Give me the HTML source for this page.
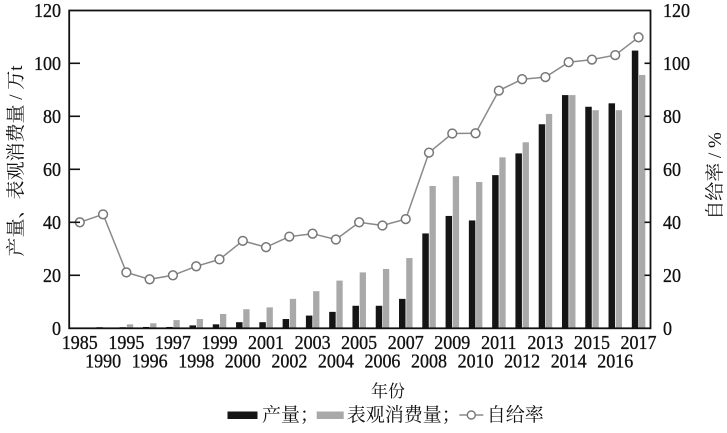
<!DOCTYPE html>
<html><head><meta charset="utf-8"><style>
html,body{margin:0;padding:0;background:#fff;}
svg{display:block;}
.n{font-family:"Liberation Serif",serif;font-size:18px;fill:#111;stroke:#111;stroke-width:0.3;}
.c{font-family:"Liberation Serif","Noto Serif CJK SC",serif;fill:#111;}
</style></head><body>
<svg width="727" height="433" viewBox="0 0 727 433" xmlns="http://www.w3.org/2000/svg">
<rect width="727" height="433" fill="#fff"/>
<g fill="#151515">
<rect x="73.1" y="327.5" width="6.5" height="0.8"/>
<rect x="96.38" y="327.24" width="6.5" height="1.06"/>
<rect x="119.66" y="327.24" width="6.5" height="1.06"/>
<rect x="142.94" y="326.97" width="6.5" height="1.33"/>
<rect x="166.22" y="326.97" width="6.5" height="1.33"/>
<rect x="189.5" y="325.38" width="6.5" height="2.92"/>
<rect x="212.78" y="324.32" width="6.5" height="3.98"/>
<rect x="236.06" y="322.2" width="6.5" height="6.1"/>
<rect x="259.34" y="322.2" width="6.5" height="6.1"/>
<rect x="282.62" y="319.02" width="6.5" height="9.28"/>
<rect x="305.9" y="315.58" width="6.5" height="12.72"/>
<rect x="329.18" y="311.87" width="6.5" height="16.43"/>
<rect x="352.46" y="305.77" width="6.5" height="22.53"/>
<rect x="375.74" y="305.77" width="6.5" height="22.53"/>
<rect x="399.02" y="298.88" width="6.5" height="29.42"/>
<rect x="422.3" y="233.43" width="6.5" height="94.87"/>
<rect x="445.58" y="215.94" width="6.5" height="112.36"/>
<rect x="468.86" y="220.44" width="6.5" height="107.86"/>
<rect x="492.14" y="175.13" width="6.5" height="153.17"/>
<rect x="515.42" y="153.4" width="6.5" height="174.9"/>
<rect x="538.7" y="124.25" width="6.5" height="204.05"/>
<rect x="561.98" y="95.1" width="6.5" height="233.2"/>
<rect x="585.26" y="106.76" width="6.5" height="221.54"/>
<rect x="608.54" y="103.31" width="6.5" height="224.99"/>
<rect x="631.82" y="50.58" width="6.5" height="277.72"/>
</g>
<g fill="#a9a9a9">
<rect x="80.3" y="327.77" width="6.3" height="0.53"/>
<rect x="103.58" y="327.5" width="6.3" height="0.8"/>
<rect x="126.86" y="324.32" width="6.3" height="3.98"/>
<rect x="150.14" y="323.26" width="6.3" height="5.04"/>
<rect x="173.42" y="320.08" width="6.3" height="8.22"/>
<rect x="196.7" y="319.02" width="6.3" height="9.28"/>
<rect x="219.98" y="313.99" width="6.3" height="14.31"/>
<rect x="243.26" y="309.22" width="6.3" height="19.08"/>
<rect x="266.54" y="307.36" width="6.3" height="20.94"/>
<rect x="289.82" y="298.88" width="6.3" height="29.42"/>
<rect x="313.1" y="291.2" width="6.3" height="37.1"/>
<rect x="336.38" y="280.6" width="6.3" height="47.7"/>
<rect x="359.66" y="272.38" width="6.3" height="55.92"/>
<rect x="382.94" y="268.94" width="6.3" height="59.36"/>
<rect x="406.22" y="258.07" width="6.3" height="70.23"/>
<rect x="429.5" y="185.99" width="6.3" height="142.31"/>
<rect x="452.78" y="176.19" width="6.3" height="152.11"/>
<rect x="476.06" y="182.02" width="6.3" height="146.28"/>
<rect x="499.34" y="157.37" width="6.3" height="170.93"/>
<rect x="522.62" y="142.27" width="6.3" height="186.03"/>
<rect x="545.9" y="113.91" width="6.3" height="214.39"/>
<rect x="569.18" y="95.1" width="6.3" height="233.2"/>
<rect x="592.46" y="110.2" width="6.3" height="218.1"/>
<rect x="615.74" y="110.2" width="6.3" height="218.1"/>
<rect x="639.02" y="74.96" width="6.3" height="253.34"/>
</g>
<polyline fill="none" stroke="#8a8a8a" stroke-width="1.5" points="79.8,222.3 103.08,214.35 126.36,272.4 149.64,279.3 172.92,275.3 196.2,266.3 219.48,259.4 242.76,240.85 266.04,247.2 289.32,236.6 312.6,233.7 335.88,239.5 359.16,222.3 382.44,225.5 405.72,219.1 429,152.6 452.28,133.5 475.56,133.3 498.84,90.6 522.12,79.2 545.4,77.1 568.68,62.2 591.96,59.6 615.24,55.1 638.52,37.3"/>
<g fill="#fff" stroke="#777" stroke-width="1.5">
<circle cx="79.8" cy="222.3" r="4.4"/><circle cx="103.08" cy="214.35" r="4.4"/><circle cx="126.36" cy="272.4" r="4.4"/><circle cx="149.64" cy="279.3" r="4.4"/><circle cx="172.92" cy="275.3" r="4.4"/><circle cx="196.2" cy="266.3" r="4.4"/><circle cx="219.48" cy="259.4" r="4.4"/><circle cx="242.76" cy="240.85" r="4.4"/><circle cx="266.04" cy="247.2" r="4.4"/><circle cx="289.32" cy="236.6" r="4.4"/><circle cx="312.6" cy="233.7" r="4.4"/><circle cx="335.88" cy="239.5" r="4.4"/><circle cx="359.16" cy="222.3" r="4.4"/><circle cx="382.44" cy="225.5" r="4.4"/><circle cx="405.72" cy="219.1" r="4.4"/><circle cx="429" cy="152.6" r="4.4"/><circle cx="452.28" cy="133.5" r="4.4"/><circle cx="475.56" cy="133.3" r="4.4"/><circle cx="498.84" cy="90.6" r="4.4"/><circle cx="522.12" cy="79.2" r="4.4"/><circle cx="545.4" cy="77.1" r="4.4"/><circle cx="568.68" cy="62.2" r="4.4"/><circle cx="591.96" cy="59.6" r="4.4"/><circle cx="615.24" cy="55.1" r="4.4"/><circle cx="638.52" cy="37.3" r="4.4"/>
</g>
<rect x="69.2" y="10.5" width="581.3" height="317.8" fill="none" stroke="#111" stroke-width="1.8"/>
<g stroke="#111" stroke-width="1.6">
<line x1="69" y1="63.3" x2="80" y2="63.3"/><line x1="69" y1="116.3" x2="80" y2="116.3"/><line x1="69" y1="169.3" x2="80" y2="169.3"/><line x1="69" y1="222.3" x2="80" y2="222.3"/><line x1="69" y1="275.3" x2="80" y2="275.3"/>
<line x1="644.5" y1="63.3" x2="650.5" y2="63.3"/><line x1="644.5" y1="116.3" x2="650.5" y2="116.3"/><line x1="644.5" y1="169.3" x2="650.5" y2="169.3"/><line x1="644.5" y1="222.3" x2="650.5" y2="222.3"/><line x1="644.5" y1="275.3" x2="650.5" y2="275.3"/>
</g>
<g class="n" text-anchor="end">
<text transform="translate(61,334.8) scale(1,1.1)">0</text>
<text transform="translate(61,281.8) scale(1,1.1)">20</text>
<text transform="translate(61,228.8) scale(1,1.1)">40</text>
<text transform="translate(61,175.8) scale(1,1.1)">60</text>
<text transform="translate(61,122.8) scale(1,1.1)">80</text>
<text transform="translate(61,69.8) scale(1,1.1)">100</text>
<text transform="translate(61,16.8) scale(1,1.1)">120</text>
</g>
<g class="n" text-anchor="start">
<text transform="translate(663,334.8) scale(1,1.1)">0</text>
<text transform="translate(663,281.8) scale(1,1.1)">20</text>
<text transform="translate(663,228.8) scale(1,1.1)">40</text>
<text transform="translate(663,175.8) scale(1,1.1)">60</text>
<text transform="translate(663,122.8) scale(1,1.1)">80</text>
<text transform="translate(663,69.8) scale(1,1.1)">100</text>
<text transform="translate(663,16.8) scale(1,1.1)">120</text>
</g>
<g class="n" text-anchor="middle">
<text transform="translate(79.8,349) scale(1,1.1)">1985</text>
<text transform="translate(126.36,349) scale(1,1.1)">1995</text>
<text transform="translate(172.92,349) scale(1,1.1)">1997</text>
<text transform="translate(219.48,349) scale(1,1.1)">1999</text>
<text transform="translate(266.04,349) scale(1,1.1)">2001</text>
<text transform="translate(312.6,349) scale(1,1.1)">2003</text>
<text transform="translate(359.16,349) scale(1,1.1)">2005</text>
<text transform="translate(405.72,349) scale(1,1.1)">2007</text>
<text transform="translate(452.28,349) scale(1,1.1)">2009</text>
<text transform="translate(498.84,349) scale(1,1.1)">2011</text>
<text transform="translate(545.4,349) scale(1,1.1)">2013</text>
<text transform="translate(591.96,349) scale(1,1.1)">2015</text>
<text transform="translate(638.52,349) scale(1,1.1)">2017</text>
<text transform="translate(103.08,367.5) scale(1,1.1)">1990</text>
<text transform="translate(149.64,367.5) scale(1,1.1)">1996</text>
<text transform="translate(196.2,367.5) scale(1,1.1)">1998</text>
<text transform="translate(242.76,367.5) scale(1,1.1)">2000</text>
<text transform="translate(289.32,367.5) scale(1,1.1)">2002</text>
<text transform="translate(335.88,367.5) scale(1,1.1)">2004</text>
<text transform="translate(382.44,367.5) scale(1,1.1)">2006</text>
<text transform="translate(429,367.5) scale(1,1.1)">2008</text>
<text transform="translate(475.56,367.5) scale(1,1.1)">2010</text>
<text transform="translate(522.12,367.5) scale(1,1.1)">2012</text>
<text transform="translate(568.68,367.5) scale(1,1.1)">2014</text>
<text transform="translate(615.24,367.5) scale(1,1.1)">2016</text>
</g>
<text class="c" font-size="19" text-anchor="middle" transform="translate(22,161) rotate(-90)">产量、表观消费量 / 万t</text>
<text class="c" font-size="19" text-anchor="middle" transform="translate(721,176) rotate(-90)">自给率 / %</text>
<text class="c" font-size="17" text-anchor="middle" x="388" y="397">年份</text>
<rect x="227.5" y="411.5" width="30" height="7.5" fill="#151515"/>
<text class="c" font-size="19" x="262" y="421">产量；</text>
<rect x="316.7" y="411.5" width="27" height="7.5" fill="#a9a9a9"/>
<text class="c" font-size="19" x="346.7" y="421">表观消费量；</text>
<line x1="459.3" y1="415" x2="483.3" y2="415" stroke="#8a8a8a" stroke-width="1.5"/>
<circle cx="471.3" cy="415" r="4" fill="#fff" stroke="#777" stroke-width="1.4"/>
<text class="c" font-size="19" x="486.7" y="421">自给率</text>
</svg>
</body></html>
